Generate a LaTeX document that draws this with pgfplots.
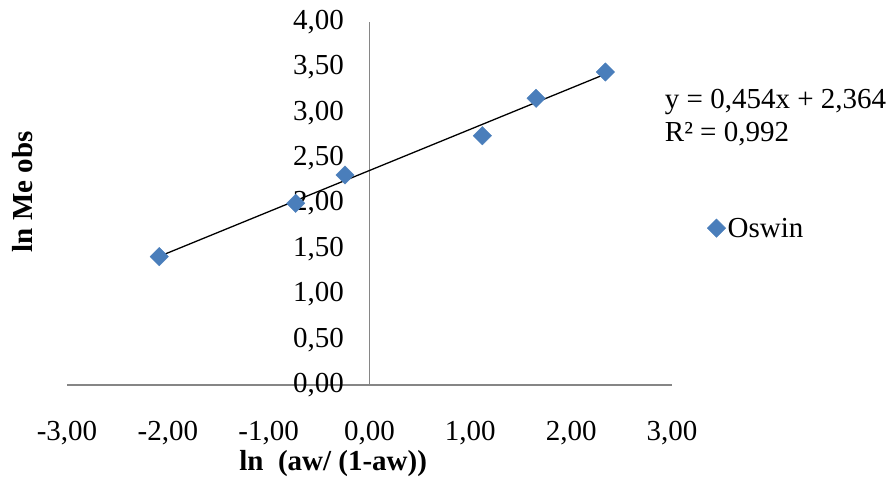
\documentclass[border=0pt]{standalone}
\usepackage{pgfplots}
\pgfplotsset{compat=1.18}
\usepackage{fontspec}
\setmainfont{Liberation Serif}
\definecolor{mblue}{RGB}{74,126,187}
\definecolor{axgray}{RGB}{134,134,134}
\begin{document}
\begin{tikzpicture}
\path[use as bounding box] (0,0) rectangle (895pt,479pt);
\begin{axis}[
  at={(67pt,94pt)}, anchor=south west,
  scale only axis, width=605pt, height=363pt,
  xmin=-3, xmax=3, ymin=0, ymax=4,
  axis x line=middle, axis y line=middle,
  axis line style={axgray, -, line width=1.2pt},
  hide obscured x ticks=false, hide obscured y ticks=false,
  xtick={-3,-2,...,3}, ytick={0,0.5,...,4},
  major tick length=0pt,
  font=\fontsize{29}{33}\selectfont,
  /pgf/number format/.cd, fixed, fixed zerofill, precision=2, use comma, assume math mode=true,
  /pgfplots/.cd,
  xticklabel style={yshift=-33pt},
  yticklabel style={xshift=-22pt},
  xlabel={\textbf{ln\ \ (aw/ (1-aw))}},
  ylabel={\textbf{ln Me obs}},
  xlabel style={at={(axis description cs:0.44,-0.215)}, anchor=center},
  ylabel style={at={(axis description cs:-0.074,0.532)}, anchor=center, rotate=90},
  legend style={at={(axis description cs:1.058,0.432)}, anchor=west, draw=none, fill=none,
    font=\fontsize{29}{33}\selectfont, inner sep=0pt},
  legend cell align=left,
  clip=false,
]
\addplot[only marks, mark=square*, mark size=6.5pt, mark options={rotate=45, fill=mblue, draw=mblue}, color=mblue]
  coordinates {(-2.085,1.414) (-0.732,2.002) (-0.243,2.314) (1.119,2.747) (1.652,3.159) (2.339,3.449)};
\addlegendentry{Oswin}
\addplot[black, line width=1.3pt, forget plot] coordinates {(-2.085,1.417) (2.339,3.426)};
\node[anchor=west, align=left, inner sep=0pt, font=\fontsize{29}{33}\selectfont] at (axis description cs:0.988,0.738)
  {y = 0,454x + 2,364\\R² = 0,992};
\end{axis}
\end{tikzpicture}
\end{document}
